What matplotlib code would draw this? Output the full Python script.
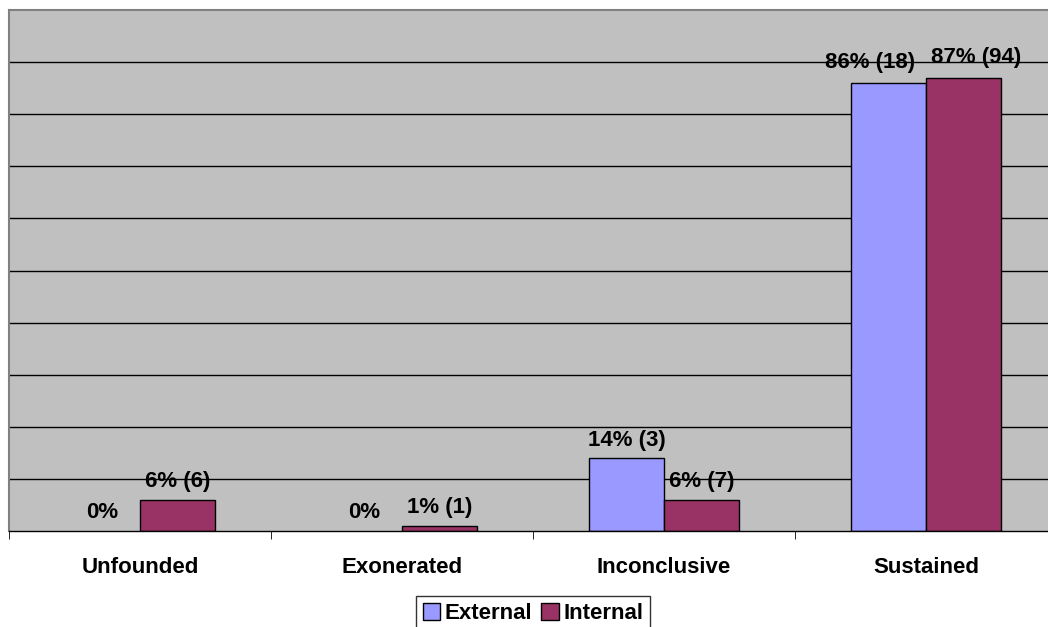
import matplotlib
matplotlib.use("Agg")
import matplotlib.pyplot as plt
from matplotlib.patches import Patch
import numpy as np

categories = ["Unfounded", "Exonerated", "Inconclusive", "Sustained"]
external_pct = [0, 0, 14, 86]
internal_pct = [6, 1, 6, 87]
external_labels = ["0%", "0%", "14% (3)", "86% (18)"]
internal_labels = ["6% (6)", "1% (1)", "6% (7)", "87% (94)"]
series_names = ["External", "Internal"]

# label nudges (points), style only
ext_dx = [0, 0, 0, -13]
int_dx = [0, 0, 0, 9]
ext_dy = [9, 9, 9, 10.5]
int_dy = [9, 9, 9, 10.5]

plt.rcParams['font.family'] = ['Liberation Sans', 'DejaVu Sans']

W, H = 1048, 627
fig = plt.figure(figsize=(W / 100, H / 100), dpi=100)
fig.patch.set_facecolor("white")
ax = fig.add_axes([9 / W, 1 - 531 / H, (1057 - 9) / W, (531 - 10) / H])
ax.set_facecolor("#C0C0C0")

x = np.arange(len(categories))
bw = 0.287
ext_col = "#9999FF"
int_col = "#993366"
FS = 16

ax.set_ylim(0, 100)
ax.set_xlim(-0.5, len(categories) - 0.5)
ax.set_yticks(np.arange(10, 100, 10))
ax.yaxis.grid(True, color="black", linewidth=1.0)
ax.set_axisbelow(True)
ax.tick_params(axis="y", left=False, labelleft=False)

b1 = ax.bar(x - bw / 2, external_pct, bw, color=ext_col, edgecolor="black", linewidth=1.0)
b2 = ax.bar(x + bw / 2, internal_pct, bw, color=int_col, edgecolor="black", linewidth=1.0)
for bars, vals in ((b1, external_pct), (b2, internal_pct)):
    for p, v in zip(bars, vals):
        if v == 0:
            p.set_edgecolor("none")

for xi, v, lab, dx, dy in zip(x - bw / 2, external_pct, external_labels, ext_dx, ext_dy):
    ax.annotate(lab, (xi, v), xytext=(dx, dy), textcoords="offset points",
                ha="center", va="baseline", fontsize=FS, fontweight="bold")
for xi, v, lab, dx, dy in zip(x + bw / 2, internal_pct, internal_labels, int_dx, int_dy):
    ax.annotate(lab, (xi, v), xytext=(dx, dy), textcoords="offset points",
                ha="center", va="baseline", fontsize=FS, fontweight="bold")

ax.set_xticks(x)
ax.set_xticklabels(categories, fontsize=FS, fontweight="bold")
ax.tick_params(axis="x", length=0, pad=19)
ax.set_xticks(np.arange(-0.5, len(categories), 1), minor=True)
ax.tick_params(axis="x", which="minor", length=6, direction="out", color="black")

for s in ["left", "top", "right"]:
    ax.spines[s].set_color("#808080")
    ax.spines[s].set_linewidth(1.5)
ax.spines["bottom"].set_color("black")
ax.spines["bottom"].set_linewidth(1.0)

handles = [Patch(facecolor=ext_col, edgecolor="black", linewidth=1.0),
           Patch(facecolor=int_col, edgecolor="black", linewidth=1.0)]
leg = fig.legend(handles, series_names, loc="upper center", bbox_to_anchor=(533 / W, 1 - 596 / H),
                 ncol=2, prop={"weight": "bold", "size": FS},
                 frameon=True, fancybox=False, handlelength=0.8, handleheight=0.8,
                 handletextpad=0.2, columnspacing=0.4, borderpad=0.3, borderaxespad=0)
leg.get_frame().set_edgecolor("black")
leg.get_frame().set_linewidth(1.0)

fig.savefig("out.png", dpi=100)
